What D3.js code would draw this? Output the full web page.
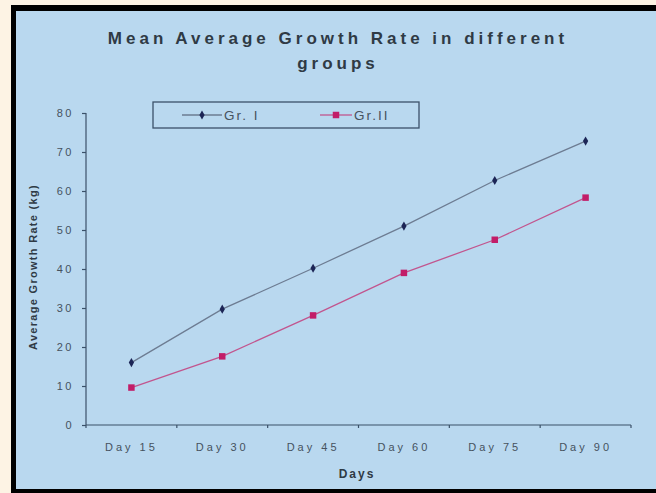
<!DOCTYPE html>
<html>
<head>
<meta charset="utf-8">
<script src="https://cdn.jsdelivr.net/npm/d3@7"></script>
<style>
  body { margin: 0; background: #fdf3e4; }
  svg { display: block; font-family: "Liberation Sans", Arial, sans-serif; }
</style>
</head>
<body>
<svg id="chart" width="656" height="493"></svg>
<script>
const days = ["Day 15", "Day 30", "Day 45", "Day 60", "Day 75", "Day 90"];
const groupOne = [16, 29.7, 40.2, 51, 62.7, 72.8];
const groupTwo = [9.6, 17.6, 28.1, 39, 47.5, 58.3];
const yTicks = [0, 10, 20, 30, 40, 50, 60, 70, 80];

let svg = d3.select("#chart");

// frame: black border on left/top/bottom, light blue panel
svg.append("rect").attr("x", 11).attr("y", 5).attr("width", 645).attr("height", 488).attr("fill", "#000");
svg.append("rect").attr("x", 16).attr("y", 11).attr("width", 640).attr("height", 478).attr("fill", "#b9d8ef");

let y = d3.scaleLinear().domain([0, 80]).range([425, 113]);
let x = d3.scaleBand().domain(days).range([86, 631]);
let cx = d => x(d) + x.bandwidth() / 2;

let axisColor = "#3b5169";
let textColor = "#46525e";

let yAxis = svg.append("g")
  .attr("transform", "translate(86,0)")
  .call(d3.axisLeft(y).tickValues(yTicks).tickSize(4).tickPadding(10));
let xAxis = svg.append("g")
  .attr("transform", "translate(0,425)")
  .call(d3.axisBottom(x).tickSize(3).tickPadding(15));

// category ticks sit on the band edges
xAxis.selectAll(".tick line").attr("transform", `translate(${-x.bandwidth() / 2},0)`);
xAxis.append("line").attr("x1", 631).attr("x2", 631).attr("y1", 0).attr("y2", 3);

[xAxis, yAxis].forEach(g => {
  g.selectAll("path, line").attr("stroke", axisColor).attr("stroke-width", 1.2);
  g.selectAll("text")
    .attr("fill", textColor)
    .attr("font-size", 11)
    .style("letter-spacing", "3px");
});
yAxis.selectAll("text").style("letter-spacing", "2.5px").attr("dx", "2px");
yAxis.select(".domain").attr("d", "M0,113V425");
xAxis.select(".domain").attr("d", "M86,0H631");

let line = d3.line().x((d, i) => cx(days[i])).y(d => y(d));

let series = [
  { name: "Gr. I", values: groupOne, line: "#6d7c92", mark: "#1c2556", shape: d3.symbolDiamond, size: 24 },
  { name: "Gr.II", values: groupTwo, line: "#c2558e", mark: "#c21d68", shape: d3.symbolSquare, size: 42 }
];

series.forEach(s => {
  svg.append("path")
    .datum(s.values)
    .attr("fill", "none")
    .attr("stroke", s.line)
    .attr("stroke-width", 1.3)
    .attr("d", line);

  svg.selectAll(null)
    .data(s.values)
    .enter()
    .append("path")
    .attr("transform", (d, i) => `translate(${cx(days[i])},${y(d)})`)
    .attr("d", d3.symbol().type(s.shape).size(s.size))
    .attr("fill", s.mark);
});

// legend
let legend = svg.append("g");
legend.append("rect")
  .attr("x", 153).attr("y", 102).attr("width", 266).attr("height", 26)
  .attr("fill", "none").attr("stroke", axisColor).attr("stroke-width", 1.3);

let legendX = [[182, 222], [320, 352]];
series.forEach((s, i) => {
  let [x0, x1] = legendX[i];
  legend.append("line")
    .attr("x1", x0).attr("x2", x1).attr("y1", 115).attr("y2", 115)
    .attr("stroke", s.line).attr("stroke-width", 1.3);
  legend.append("path")
    .attr("transform", `translate(${(x0 + x1) / 2},115)`)
    .attr("d", d3.symbol().type(s.shape).size(s.size))
    .attr("fill", s.mark);
  legend.append("text")
    .attr("x", x1 + 2).attr("y", 120)
    .attr("font-size", 13.5)
    .attr("fill", textColor)
    .style("letter-spacing", "2px")
    .text(s.name);
});

// titles
let title = svg.append("text")
  .attr("text-anchor", "middle")
  .attr("font-size", 17)
  .attr("font-weight", "bold")
  .attr("fill", "#2f3a45")
  .style("letter-spacing", "4px");
title.append("tspan").attr("x", 338).attr("y", 44).text("Mean Average Growth Rate in different");
title.append("tspan").attr("x", 338).attr("y", 69).text("groups");

svg.append("text")
  .attr("x", 357).attr("y", 478)
  .attr("text-anchor", "middle")
  .attr("font-size", 12)
  .attr("font-weight", "bold")
  .attr("fill", "#2f3a45")
  .style("letter-spacing", "2px")
  .text("Days");

svg.append("text")
  .attr("transform", "translate(37,267) rotate(-90)")
  .attr("text-anchor", "middle")
  .attr("font-size", 11)
  .attr("font-weight", "bold")
  .attr("fill", "#2f3a45")
  .style("letter-spacing", "1.3px")
  .text("Average Growth Rate (kg)");
</script>
</body>
</html>
